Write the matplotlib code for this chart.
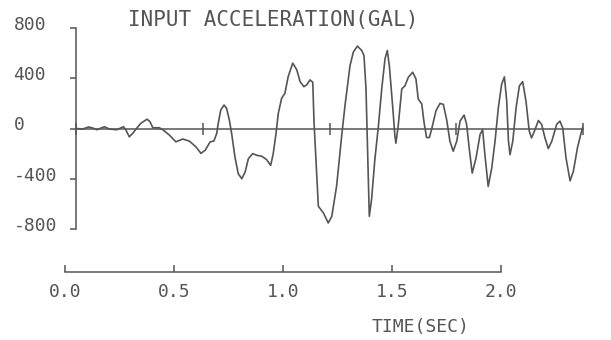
import numpy as np
import matplotlib.pyplot as plt
import matplotlib.transforms as mtransforms

# Digitised record (time in sec, acceleration in gal)
time = [0.000, 0.026, 0.050, 0.066, 0.082, 0.112, 0.131, 0.161, 0.187, 0.197,
        0.210, 0.224, 0.237, 0.256, 0.280, 0.292, 0.303, 0.329, 0.344, 0.368,
        0.394, 0.421, 0.447, 0.473, 0.493, 0.510, 0.529, 0.544, 0.555, 0.561,
        0.571, 0.584, 0.594, 0.605, 0.614, 0.627, 0.640, 0.654, 0.667, 0.680,
        0.697, 0.713, 0.733, 0.752, 0.768, 0.778, 0.789, 0.798, 0.811, 0.824,
        0.837, 0.855, 0.871, 0.884, 0.899, 0.910, 0.923, 0.934, 0.939, 0.947,
        0.956, 0.976, 0.995, 1.009, 1.028, 1.048, 1.061, 1.081, 1.094, 1.110,
        1.127, 1.136, 1.144, 1.149, 1.157, 1.166, 1.179, 1.193, 1.206, 1.219,
        1.228, 1.236, 1.249, 1.258, 1.262, 1.271, 1.285, 1.298, 1.311, 1.328,
        1.341, 1.350, 1.364, 1.373, 1.383, 1.394, 1.403, 1.420, 1.436, 1.449,
        1.462, 1.475, 1.488, 1.502, 1.515, 1.531, 1.541, 1.551, 1.563, 1.578,
        1.594, 1.604, 1.613, 1.626, 1.640, 1.653, 1.666, 1.679, 1.690, 1.699,
        1.706, 1.712, 1.723, 1.736, 1.749, 1.762, 1.775, 1.788, 1.797, 1.811,
        1.824, 1.837, 1.850, 1.863, 1.877, 1.896, 1.909, 1.920, 1.933, 1.949,
        1.962, 1.978, 1.991, 2.000]
accel = [0, -4, 12, 4, -10, 14, -4, -10, 14, -12,
         -66, -38, -4, 42, 74, 54, 6, 6, -12, -52,
         -106, -84, -100, -146, -198, -172, -107, -99, -40, 40,
         147, 187, 160, 67, -40, -227, -360, -400, -347, -240,
         -200, -213, -221, -248, -293, -200, -40, 120, 240, 280,
         413, 520, 467, 373, 333, 347, 387, 368, 48, -272,
         -619, -672, -752, -699, -459, -59, 181, 501, 608, 656,
         621, 581, 315, -85, -699, -565, -245, 21, 315, 555,
         621, 501, 181, -59, -117, 21, 315, 341, 408, 448,
         395, 235, 195, 48, -72, -72, -5, 141, 200, 192,
         72, -101, -181, -101, 59, 107, 32, -155, -355, -235,
         -48, -8, -208, -461, -315, -101, 165, 352, 411, 219,
         -101, -208, -101, 165, 339, 373, 219, -21, -75, -8,
         64, 32, -75, -160, -101, 32, 59, 5, -235, -416,
         -341, -155, -48, 19]

yticks = [-800, -400, 0, 400, 800]
yticklabels = ["-800", "-400", "0", "400", "800"]
xticks = [0.0, 0.5, 1.0, 1.5, 2.0]
xticklabels = ["0.0", "0.5", "1.0", "1.5", "2.0"]

ink = "#555555"
plt.rcParams['font.family'] = ['DejaVu Sans Mono']

W, H = 611, 340
fig = plt.figure(figsize=(W / 100, H / 100), dpi=100)

# waveform panel
ax = fig.add_axes([76 / W, 1 - 229 / H, (583 - 76) / W, (229 - 28) / H])
ax.plot(time, accel, color=ink, lw=1.2, solid_joinstyle='round')
ax.set_xlim(0, 2)
ax.set_ylim(-800, 800)
ax.patch.set_visible(False)
for s in ["top", "right"]:
    ax.spines[s].set_visible(False)
ax.spines["bottom"].set_position(("data", 0))
for s in ["left", "bottom"]:
    ax.spines[s].set_color(ink)
    ax.spines[s].set_linewidth(1.1)
ax.set_xticks(xticks)
ax.tick_params(axis="x", direction="inout", length=8, width=1.1, color=ink,
               labelbottom=False)
ax.set_yticks(yticks)
ax.set_yticklabels(yticklabels)
ax.tick_params(axis="y", direction="out", length=4, width=1.1, color=ink,
               labelsize=13, labelcolor=ink, pad=41)
shift = mtransforms.ScaledTranslation(0, 5 / 100, fig.dpi_scale_trans)
for lbl in ax.get_yticklabels():
    lbl.set_horizontalalignment("left")
    lbl.set_transform(lbl.get_transform() + shift)

# separate time axis underneath
ax2 = fig.add_axes([65 / W, 1 - 272 / H, 436 / W, 0.001])
ax2.patch.set_visible(False)
for s in ["top", "right", "left"]:
    ax2.spines[s].set_visible(False)
ax2.spines["bottom"].set_color(ink)
ax2.spines["bottom"].set_linewidth(1.1)
ax2.set_xlim(0, 2)
ax2.set_yticks([])
ax2.set_xticks(xticks)
ax2.set_xticklabels(xticklabels)
ax2.tick_params(axis="x", direction="in", length=5, width=1.1, color=ink,
                labelsize=13, labelcolor=ink, pad=8)

fig.text(128 / W, 1 - 20 / H, "INPUT ACCELERATION(GAL)", ha="left", va="center",
         fontsize=15, color=ink)
fig.text(372 / W, 1 - 327 / H, "TIME(SEC)", ha="left", va="center",
         fontsize=13, color=ink)

fig.savefig("out.png", dpi=100)
